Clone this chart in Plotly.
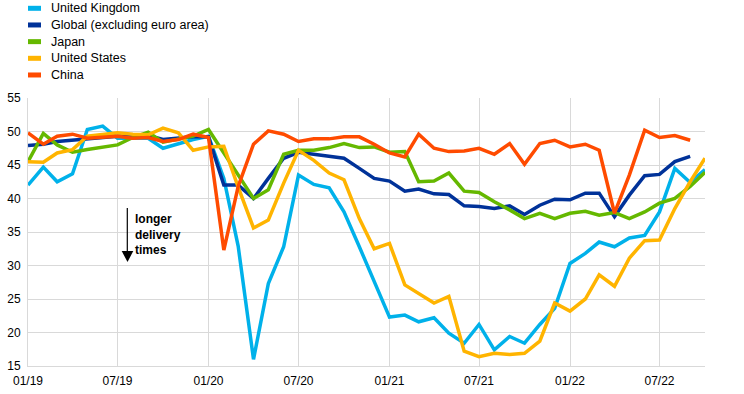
import pandas as pd
import plotly.graph_objects as go

months = pd.date_range("2019-01-01", periods=46, freq="MS")

uk = [42.0, 44.7, 42.5, 43.7, 50.3, 50.8, 49.0, 49.0, 49.0, 47.5, 48.2, 48.8,
      49.3, 43.0, 32.9, 16.0, 27.3, 32.8, 43.5, 42.1, 41.6, 38.0, 32.8, 27.6,
      22.3, 22.6, 21.6, 22.2, 19.9, 18.4, 21.2, 17.4, 19.4, 18.4, 21.2, 23.6,
      30.3, 31.8, 33.5, 32.8, 34.1, 34.5, 38.0, 44.5, 42.4, 44.3]
glob = [47.9, 48.1, 48.5, 48.7, 49.0, 49.2, 49.3, 49.4, 49.4, 48.8, 49.0, 49.2,
        49.2, 42.0, 42.0, 40.0, 43.0, 46.0, 46.9, 46.6, 46.2, 46.0, 44.5, 43.0,
        42.6, 41.1, 41.4, 40.7, 40.6, 38.9, 38.8, 38.5, 38.9, 37.6, 39.0, 39.9,
        39.8, 40.8, 40.8, 37.3, 40.5, 43.4, 43.6, 45.5, 46.3]
japan = [45.5, 49.7, 48.0, 46.9, 47.3, 47.7, 48.0, 49.1, 49.9, 48.4, 48.9, 49.3,
         50.3, 46.8, 43.5, 40.0, 41.3, 46.6, 47.2, 47.2, 47.6, 48.2, 47.6, 47.7,
         46.9, 47.0, 42.5, 42.6, 43.8, 41.1, 40.9, 39.5, 38.3, 37.0, 37.8, 37.0,
         37.8, 38.1, 37.5, 37.9, 37.0, 38.0, 39.3, 40.0, 41.8, 43.9]
us = [45.5, 45.4, 46.8, 47.3, 49.3, 49.6, 49.8, 49.6, 49.5, 50.5, 49.8, 47.2,
      47.7, 47.8, 41.7, 35.6, 36.8, 42.3, 47.2, 45.7, 43.8, 42.8, 37.0, 32.5,
      33.3, 27.1, 25.8, 24.4, 25.4, 17.2, 16.4, 16.9, 16.7, 16.9, 18.7, 24.4,
      23.2, 25.0, 28.6, 26.9, 31.1, 33.7, 33.8, 38.5, 42.5, 46.0]
china = [49.8, 48.1, 49.3, 49.6, 49.0, 49.2, 49.3, 49.0, 49.1, 48.5, 48.8, 49.6,
         49.1, 32.3, 41.8, 48.1, 50.1, 49.6, 48.5, 48.9, 48.9, 49.2, 49.2, 48.1,
         46.8, 46.2, 49.6, 47.5, 47.0, 47.1, 47.5, 46.6, 48.2, 45.1, 48.2, 48.7,
         47.7, 48.1, 47.2, 37.8, 43.5, 50.2, 49.1, 49.4, 48.7]

series_names = ["United Kingdom", "Global (excluding euro area)", "Japan",
                "United States", "China"]
series_values = [uk, glob, japan, us, china]
series_colors = ["#00B1EA", "#003299", "#65B800", "#FFB400", "#FF4B00"]

W, H = 744, 394
ML, MR, MT, MB = 28, 39, 98, 28
PW, PH = W - ML - MR, H - MT - MB


def px_x(x):
    return (x - ML) / PW


def px_y(y):
    return 1 - (y - MT) / PH


fig = go.Figure()
for name, vals, col in zip(series_names, series_values, series_colors):
    fig.add_trace(go.Scatter(
        x=months[:len(vals)], y=vals, name=name, mode="lines",
        line=dict(color=col, width=3.5), showlegend=False,
    ))

font_family = "Liberation Sans, Arial, sans-serif"
grid = "#d9d9d9"

fig.update_layout(
    width=W, height=H,
    margin=dict(l=ML, r=MR, t=MT, b=MB, autoexpand=False),
    paper_bgcolor="white", plot_bgcolor="white",
    font=dict(family=font_family, size=12, color="#000000"),
    showlegend=False,
    xaxis=dict(
        range=[months[0], months[45]],
        tickformat="%m/%y", dtick="M6", tick0=months[0],
        showgrid=True, gridcolor=grid, gridwidth=1,
        showline=True, linecolor=grid, linewidth=1,
        ticks="", ticklabelstandoff=4,
        zeroline=False,
    ),
    yaxis=dict(
        range=[15, 55], dtick=5,
        showgrid=True, gridcolor=grid, gridwidth=1,
        showline=True, linecolor=grid, linewidth=1,
        ticks="", zeroline=False, ticklabelstandoff=4,
    ),
)

# manual legend (swatch + text) above the plot
leg_y0, leg_dy = 8.3, 16.67
for k, (name, col) in enumerate(zip(series_names, series_colors)):
    yc = leg_y0 + k * leg_dy
    fig.add_shape(type="line", xref="paper", yref="paper",
                  x0=px_x(28), x1=px_x(41), y0=px_y(yc), y1=px_y(yc),
                  line=dict(color=col, width=5))
    fig.add_annotation(xref="paper", yref="paper", x=px_x(49), y=px_y(yc),
                       xanchor="left", yanchor="middle", showarrow=False,
                       text=name,
                       font=dict(family=font_family, size=12.5, color="#000000"))

# arrow annotation: "longer delivery times"
fig.add_shape(type="line", xref="paper", yref="paper",
              x0=px_x(127.3), x1=px_x(127.3), y0=px_y(208), y1=px_y(252),
              line=dict(color="#000000", width=1.2))
fig.add_shape(type="path", xref="paper", yref="paper",
              path=f"M {px_x(121.7)} {px_y(251)} L {px_x(133.3)} {px_y(251)} "
                   f"L {px_x(127.5)} {px_y(262)} Z",
              fillcolor="#000000", line=dict(color="#000000", width=0))
fig.add_annotation(
    xref="paper", yref="paper", x=px_x(132.5), y=px_y(210),
    xanchor="left", yanchor="top", align="left", showarrow=False,
    text="<b>longer</b><br><b>delivery</b><br><b>times</b>",
    font=dict(family=font_family, size=12, color="#000000"),
)

fig.write_html("out.html",
               config={"displayModeBar": False},
               post_script="document.body.style.margin='0';"
                           "document.body.style.overflow='hidden';")
